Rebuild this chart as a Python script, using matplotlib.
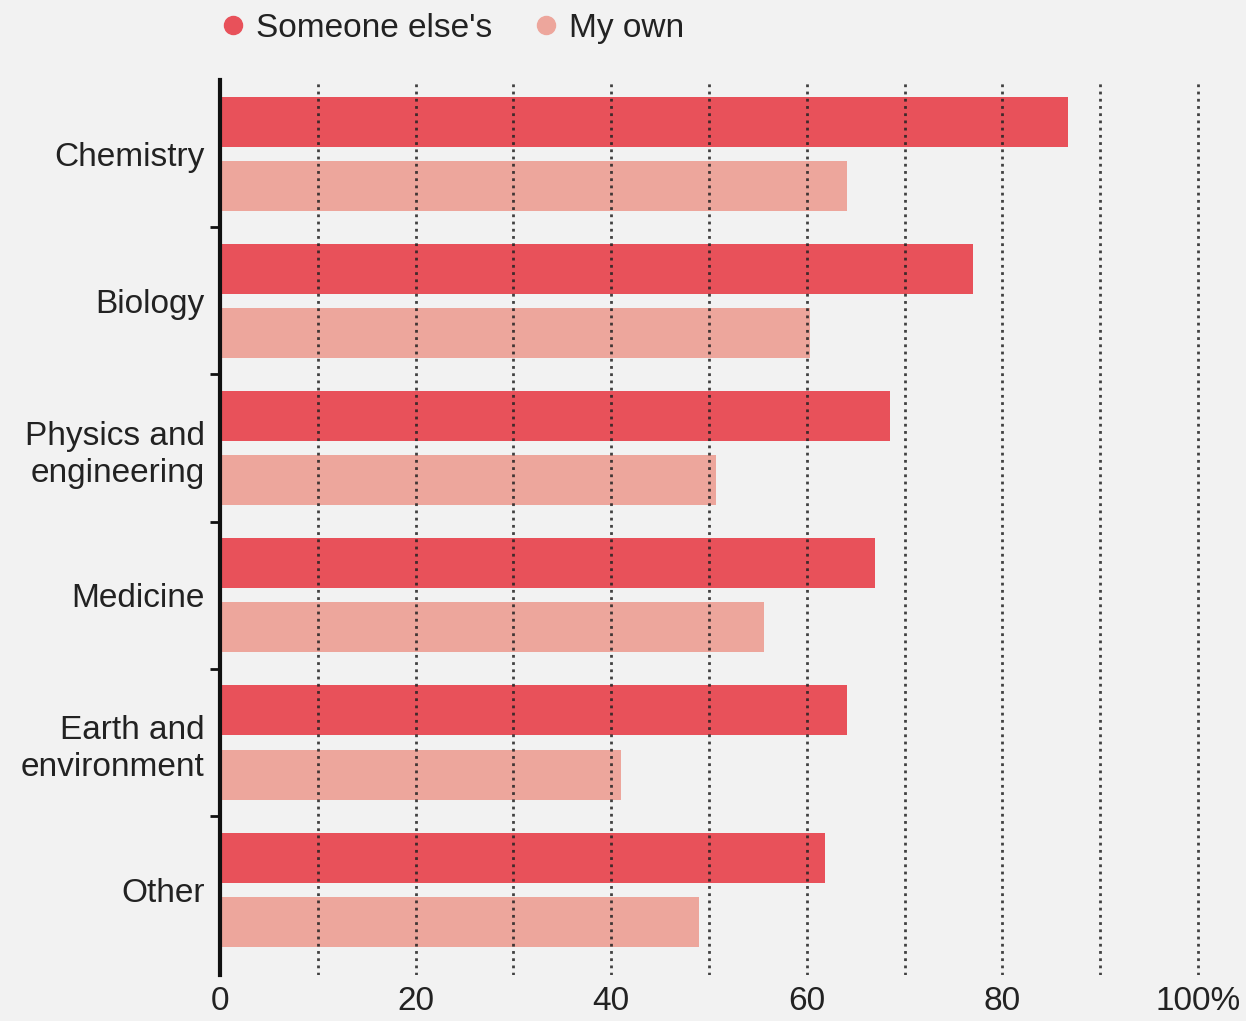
import numpy as np
import matplotlib.pyplot as plt
from matplotlib.lines import Line2D

# Data (% of respondents)
categories = ['Chemistry', 'Biology', 'Physics and\nengineering', 'Medicine',
              'Earth and\nenvironment', 'Other']
someone_else = [86.7, 77.0, 68.5, 67.0, 64.1, 61.9]
my_own = [64.1, 60.3, 50.7, 55.6, 41.0, 49.0]
xticks = [0, 20, 40, 60, 80, 100]
xtick_labels = ['0', '20', '40', '60', '80', '100%']

red = '#E8515A'
pink = '#EDA69C'
bg = '#F2F2F2'
txt = '#222222'

plt.rcParams['font.family'] = ['Liberation Sans', 'DejaVu Sans']

fig = plt.figure(figsize=(12.46, 10.21), dpi=100, facecolor=bg)
ax = fig.add_axes([0.1766, 0.045, 0.8084, 0.8766])
ax.set_facecolor(bg)

y = np.arange(len(categories))
off = 0.218
h = 0.34
ax.barh(y - off, someone_else, height=h, color=red, zorder=2)
ax.barh(y + off, my_own, height=h, color=pink, zorder=2)

ax.set_ylim(len(categories) - 0.42, -0.5)
ax.set_xlim(0, 103)

# dotted gridlines every 10
for gx in range(10, 101, 10):
    ax.axvline(gx, color='#222222', lw=2, ls=(0, (1, 1.6)), zorder=3, alpha=0.85)

ax.set_yticks(y)
ax.set_yticklabels(categories, fontsize=24, color=txt, ha='right', ma='right',
                   linespacing=1.25)
ax.tick_params(axis='y', which='major', length=0, pad=11)
ax.set_yticks(np.arange(0.5, len(categories) - 1, 1), minor=True)
ax.tick_params(axis='y', which='minor', length=7, width=2, color='#111111')

ax.set_xticks(xticks)
ax.set_xticklabels(xtick_labels, fontsize=24, color=txt,
                   family=['Liberation Sans Narrow', 'Liberation Sans', 'DejaVu Sans'])
ax.tick_params(axis='x', length=0, pad=8)

for s in ['top', 'right', 'bottom']:
    ax.spines[s].set_visible(False)
ax.spines['left'].set_linewidth(3)
ax.spines['left'].set_color('#111111')
ax.spines['left'].set_zorder(4)

handles = [Line2D([], [], marker='o', ls='', color=red, markersize=13),
           Line2D([], [], marker='o', ls='', color=pink, markersize=13)]
fig.legend(handles, ["Someone else's", 'My own'], loc='center left',
           bbox_to_anchor=(0.136, 0.972), ncol=2, frameon=False, fontsize=24,
           handletextpad=-0.3, columnspacing=0.6, labelcolor=txt)

fig.savefig('out.png', dpi=100, facecolor=bg)
